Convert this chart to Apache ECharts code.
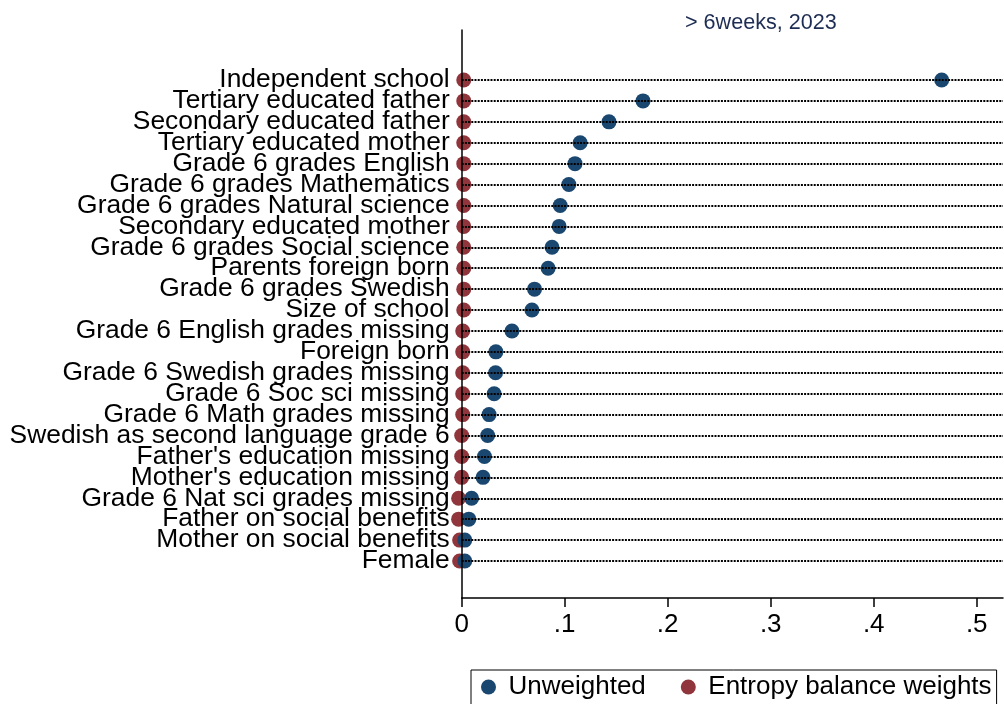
<!DOCTYPE html>
<html>
<head>
<meta charset="utf-8">
<script src="https://cdn.jsdelivr.net/npm/echarts@6/dist/echarts.min.js"></script>
<style>
html,body{margin:0;padding:0;background:#fff;}
#chart{width:1004px;height:704px;}
</style>
</head>
<body>
<div id="chart"></div>
<script>
const titleText = '> 6weeks, 2023';
const categories = [
  'Independent school',
  'Tertiary educated father',
  'Secondary educated father',
  'Tertiary educated mother',
  'Grade 6 grades English',
  'Grade 6 grades Mathematics',
  'Grade 6 grades Natural science',
  'Secondary educated mother',
  'Grade 6 grades Social science',
  'Parents foreign born',
  'Grade 6 grades Swedish',
  'Size of school',
  'Grade 6 English grades missing',
  'Foreign born',
  'Grade 6 Swedish grades missing',
  'Grade 6 Soc sci missing',
  'Grade 6 Math grades missing',
  'Swedish as second language grade 6',
  "Father's education missing",
  "Mother's education missing",
  'Grade 6 Nat sci grades missing',
  'Father on social benefits',
  'Mother on social benefits',
  'Female'
];
const unweighted = [0.466, 0.176, 0.143, 0.115, 0.110, 0.104, 0.0956, 0.0946, 0.0877, 0.0839, 0.0707, 0.0682, 0.0488, 0.0332, 0.0329, 0.0315, 0.0266, 0.0252, 0.0221, 0.0207, 0.0096, 0.0069, 0.003, 0.003];
const entropy = [0.002, 0.002, 0.002, 0.002, 0.002, 0.002, 0.002, 0.002, 0.002, 0.002, 0.002, 0.002, 0.001, 0.001, 0.001, 0.001, 0.001, 0.0, 0.0, 0.0, -0.003, -0.003, -0.002, -0.002];
const xTicks = [0, 0.1, 0.2, 0.3, 0.4, 0.5];
const seriesNames = ['Unweighted', 'Entropy balance weights'];

const FONT = "'Liberation Sans', Arial, sans-serif";
const X_MAX = 0.5255;
const PLOT_LEFT = 461.7;
const ROW_TOP = 80, ROW_BOTTOM = 561;
const band = (ROW_BOTTOM - ROW_TOP) / (categories.length - 1);
const dataTop = ROW_TOP - band / 2;
const dataBottom = 704 - (ROW_BOTTOM + band / 2);

const chart = echarts.init(document.getElementById('chart'), null, {renderer: 'canvas'});
chart.setOption({
  animation: false,
  backgroundColor: '#ffffff',
  textStyle: {fontFamily: FONT},
  title: {
    text: titleText,
    left: 685, top: 12, padding: 0,
    textStyle: {fontFamily: FONT, fontSize: 21.6, fontWeight: 'normal', color: '#1e2d53'}
  },
  legend: {
    data: seriesNames,
    left: 471, top: 670,
    padding: [4, 5, 40, 10],
    borderColor: '#000', borderWidth: 1,
    itemWidth: 30, itemHeight: 15, itemGap: 35,
    icon: 'circle',
    textStyle: {fontFamily: FONT, fontSize: 26, color: '#000', lineHeight: 26}
  },
  grid: [
    {left: PLOT_LEFT, right: 1, top: dataTop, bottom: dataBottom, containLabel: false},
    {left: PLOT_LEFT, right: 1, top: 30, bottom: 106, containLabel: false}
  ],
  xAxis: [
    {
      gridIndex: 0, type: 'value', min: 0, max: X_MAX, show: false,
      splitLine: {show: false}
    },
    {
      gridIndex: 1, type: 'value', min: 0, max: X_MAX,
      axisLine: {show: true, onZero: false, lineStyle: {color: '#000', width: 1.5}},
      axisTick: {show: true, length: 9, customValues: xTicks, lineStyle: {color: '#000', width: 1.5}},
      axisLabel: {
        customValues: xTicks, margin: 14, fontSize: 26, color: '#000', fontFamily: FONT,
        formatter: v => v === 0 ? '0' : v.toFixed(1).replace(/^0/, '')
      },
      splitLine: {show: false}
    }
  ],
  yAxis: [
    {
      gridIndex: 0, type: 'category', inverse: true, data: categories, boundaryGap: true,
      axisLine: {show: false}, axisTick: {show: false},
      axisLabel: {interval: 0, margin: 12, fontSize: 26.4, color: '#000', fontFamily: FONT},
      splitLine: {show: false}
    },
    {
      gridIndex: 1, type: 'value', min: 0, max: 1, z: 10,
      axisLine: {show: true, onZero: false, lineStyle: {color: '#000', width: 1.5}},
      axisTick: {show: false}, axisLabel: {show: false}, splitLine: {show: false}
    }
  ],
  series: [
    {
      name: seriesNames[1], type: 'scatter', symbol: 'circle', symbolSize: 15,
      xAxisIndex: 0, yAxisIndex: 0, clip: false,
      itemStyle: {color: '#90353b', opacity: 1},
      data: entropy.map((v, i) => [v, categories[i]]),
      markLine: {
        silent: true, symbol: 'none', animation: false,
        label: {show: false},
        lineStyle: {color: '#000', type: [2, 1.2], width: 2.2},
        data: categories.map(c => ({yAxis: c}))
      },
      z: 3
    },
    {
      name: seriesNames[0], type: 'scatter', symbol: 'circle', symbolSize: 15,
      xAxisIndex: 0, yAxisIndex: 0, clip: false,
      itemStyle: {color: '#1a476f', opacity: 1},
      data: unweighted.map((v, i) => [v, categories[i]]),
      z: 4
    }
  ]
});
</script>
</body>
</html>
